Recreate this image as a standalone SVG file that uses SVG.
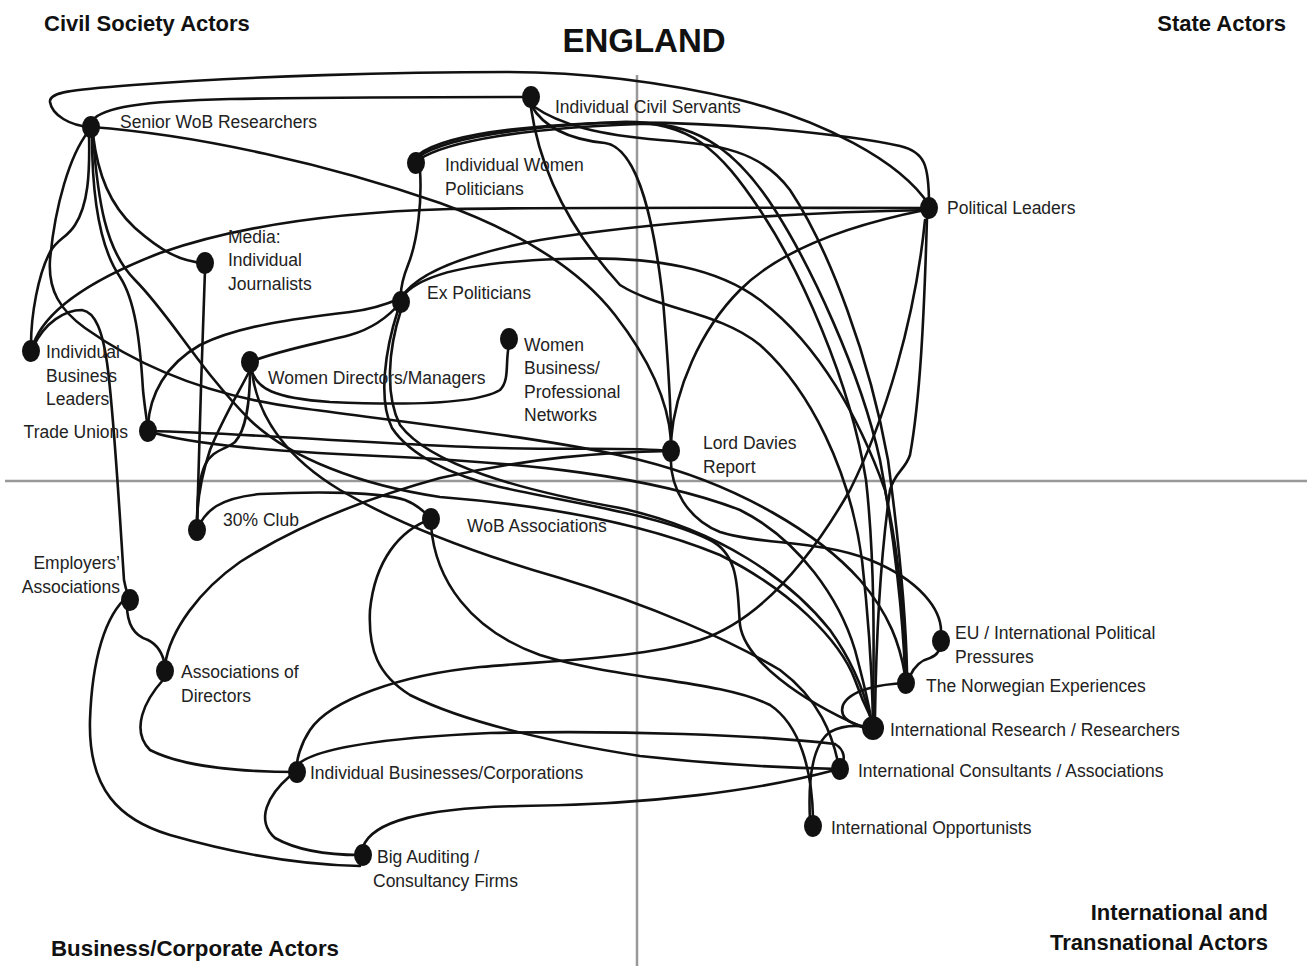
<svg xmlns="http://www.w3.org/2000/svg" width="1307" height="966" viewBox="0 0 1307 966">
<style>
.e{fill:none;stroke:#111;stroke-width:2.6;stroke-linecap:round}
.n{fill:#111}
.t{font-family:"Liberation Sans",Arial,sans-serif;font-size:17.5px;fill:#222}
.h{font-family:"Liberation Sans",Arial,sans-serif;font-weight:bold;font-size:22px;fill:#111}
.ax{stroke:#999;stroke-width:2.5}
</style>
<rect width="1307" height="966" fill="#fff"/>
<g id="axes">
<line class="ax" x1="637" y1="75" x2="637" y2="966"/>
<line class="ax" x1="5" y1="481" x2="1307" y2="481"/>
</g>
<g id="titles">
<text x="644" y="52" text-anchor="middle" class="h" style="font-size:33px">ENGLAND</text>
<text x="44" y="31" class="h">Civil Society Actors</text>
<text x="1286" y="31" class="h" text-anchor="end">State Actors</text>
<text x="51" y="956" class="h" textLength="288" lengthAdjust="spacingAndGlyphs">Business/Corporate Actors</text>
<text x="1268" y="920" class="h" text-anchor="end">International and</text>
<text x="1268" y="950" class="h" text-anchor="end">Transnational Actors</text>
</g>
<g id="connectors">
<path class="e" d="M91,127 C70,126 52,115 50,102 C49,92 70,90 133,85 C250,76 400,72 507,72 C600,72 680,86 740,100 C820,120 900,160 929,205"/>
<path class="e" d="M93,120 C102,108 140,101 230,99 C350,97 450,97 531,97"/>
<path class="e" d="M91,127 C200,135 330,165 440,203 C520,232 580,270 615,315 C650,360 668,400 671,440"/>
<path class="e" d="M93,135 C98,175 110,205 135,228 C160,250 180,262 205,263"/>
<path class="e" d="M89,133 C90,175 88,205 75,225 C67,238 58,238 50,252 C38,275 31,315 31,345"/>
<path class="e" d="M92,135 C92,190 98,245 120,277 C135,300 140,340 143,390 C145,410 147,420 148,431"/>
<path class="e" d="M88,132 C70,155 55,205 50,260 C48,290 60,310 85,328 C130,360 200,395 300,408 C420,424 560,440 640,460 C740,485 820,535 860,580 C890,615 900,645 905,675"/>
<path class="e" d="M93,137 C98,200 105,250 135,280 C170,315 200,370 250,420 C290,458 360,485 440,497 C540,505 640,522 720,555 C790,590 840,640 855,680 C862,700 868,712 871,718"/>
<path class="e" d="M531,105 C545,130 575,140 605,143 C640,148 655,230 663,300 C668,360 671,410 671,440"/>
<path class="e" d="M533,106 C560,125 600,135 660,140 C720,145 760,150 790,190 C830,250 870,360 888,460 C900,550 906,620 907,672"/>
<path class="e" d="M531,108 C540,170 570,230 620,285 C660,310 720,312 760,345 C810,390 850,470 862,560 C870,630 872,680 873,716"/>
<path class="e" d="M418,155 C440,138 500,127 600,123 C720,120 850,135 900,146 C925,152 929,165 929,205"/>
<path class="e" d="M418,157 C445,138 520,127 620,122 C690,120 720,150 760,210 C800,270 850,380 866,480 C875,560 874,650 873,716"/>
<path class="e" d="M418,160 C448,140 530,128 640,124 C700,122 740,155 775,210 C810,265 860,370 880,460 C895,540 903,620 905,672"/>
<path class="e" d="M420,170 C422,200 418,240 408,265 C402,280 400,290 401,300"/>
<path class="e" d="M925,210 C850,225 780,250 740,290 C700,330 675,390 671,440"/>
<path class="e" d="M927,218 C924,320 920,400 910,455 C905,470 895,472 890,490 C880,560 876,650 875,716"/>
<path class="e" d="M925,220 C915,320 885,420 850,490 C810,560 760,620 700,640 C640,658 560,660 480,667 C400,675 330,700 310,730 C300,745 297,760 297,765"/>
<path class="e" d="M33,345 C45,310 90,280 160,253 C240,225 340,212 450,209 C600,207 800,208 929,208"/>
<path class="e" d="M401,298 C415,275 460,255 540,240 C650,222 800,212 929,210"/>
<path class="e" d="M403,296 C420,275 470,262 560,259 C660,255 720,270 760,300 C820,345 860,420 885,490 C900,560 905,620 906,675"/>
<path class="e" d="M398,310 C385,350 378,400 392,428 C410,455 450,475 500,487 C580,505 660,515 710,540 C740,555 737,590 740,625 C745,660 800,700 862,727"/>
<path class="e" d="M401,310 C388,350 385,395 400,425 C430,465 520,490 620,508 C720,530 790,580 830,630 C855,665 866,700 870,716"/>
<path class="e" d="M148,425 C150,395 165,365 200,345 C240,325 300,318 350,312 C375,309 392,302 401,298"/>
<path class="e" d="M148,431 C250,433 380,445 500,448 C580,450 630,447 671,451"/>
<path class="e" d="M148,431 C190,445 280,452 400,457 C520,463 650,475 740,510 C800,540 840,600 855,650 C863,680 868,700 871,718"/>
<path class="e" d="M250,362 C280,350 320,343 350,335 C375,328 390,315 401,302"/>
<path class="e" d="M252,372 C258,388 272,398 330,402 C420,406 480,402 500,390 C510,380 505,362 509,345"/>
<path class="e" d="M250,370 C240,390 222,420 210,450 C200,480 197,505 197,525"/>
<path class="e" d="M250,370 C250,400 246,430 235,442 C225,450 212,450 205,465 C198,480 197,505 197,525"/>
<path class="e" d="M252,372 C258,420 290,460 340,490 C400,525 480,555 560,578 C650,605 730,640 780,670 C820,700 832,735 838,762"/>
<path class="e" d="M205,270 C202,350 199,450 197,525"/>
<path class="e" d="M197,530 C205,510 220,498 260,494 C320,491 380,492 405,500 C418,505 425,512 431,519"/>
<path class="e" d="M33,347 C45,322 65,310 82,310 C95,312 103,330 108,370 C115,430 120,520 124,580 C126,590 128,596 130,600"/>
<path class="e" d="M165,665 C170,630 200,590 240,562 C290,530 360,500 440,478 C530,458 600,452 671,451"/>
<path class="e" d="M127,605 C127,625 135,636 148,640 C158,645 163,655 165,665"/>
<path class="e" d="M128,596 C105,615 92,660 90,720 C88,790 120,820 170,835 C240,855 300,865 360,866"/>
<path class="e" d="M163,680 C145,700 130,730 150,750 C185,768 250,772 297,772"/>
<path class="e" d="M290,776 C268,795 255,820 275,838 C300,852 330,855 360,855"/>
<path class="e" d="M297,765 C315,748 380,738 490,733 C620,730 760,735 835,744 C845,750 846,760 840,768"/>
<path class="e" d="M363,847 C372,822 420,808 520,806 C650,805 760,790 835,770"/>
<path class="e" d="M431,519 C400,530 375,560 370,610 C368,650 378,675 410,695 C470,725 570,745 640,756 C720,765 790,768 840,769"/>
<path class="e" d="M431,525 C435,580 470,630 540,655 C620,680 720,680 770,705 C800,725 812,770 813,818"/>
<path class="e" d="M810,820 C808,780 812,745 830,732 C845,724 860,725 873,728"/>
<path class="e" d="M906,683 C880,684 850,690 843,705 C838,720 855,726 873,728"/>
<path class="e" d="M910,676 C915,665 922,660 930,658 C938,655 941,648 941,641"/>
<path class="e" d="M671,451 C668,490 690,520 720,532 C760,545 820,540 870,560 C920,580 942,610 941,633"/>
</g>
<g id="n-senior-wob"><ellipse class="n" cx="91" cy="127" rx="9" ry="11"/><text class="t" x="120" y="128">Senior WoB Researchers</text></g>
<g id="n-civil-servants"><ellipse class="n" cx="531" cy="97" rx="9" ry="11"/><text class="t" x="555" y="113">Individual Civil Servants</text></g>
<g id="n-women-politicians"><ellipse class="n" cx="416" cy="163" rx="9" ry="11"/><text class="t" x="445" y="171">Individual Women</text><text class="t" x="445" y="195">Politicians</text></g>
<g id="n-political-leaders"><ellipse class="n" cx="929" cy="208" rx="9" ry="11"/><text class="t" x="947" y="214">Political Leaders</text></g>
<g id="n-media"><ellipse class="n" cx="205" cy="263" rx="9" ry="11"/><text class="t" x="228" y="243">Media:</text><text class="t" x="228" y="266">Individual</text><text class="t" x="228" y="290">Journalists</text></g>
<g id="n-ex-politicians"><ellipse class="n" cx="401" cy="302" rx="9" ry="11"/><text class="t" x="427" y="299">Ex Politicians</text></g>
<g id="n-women-networks"><ellipse class="n" cx="509" cy="339" rx="9" ry="11"/><text class="t" x="524" y="351">Women</text><text class="t" x="524" y="374">Business/</text><text class="t" x="524" y="398">Professional</text><text class="t" x="524" y="421">Networks</text></g>
<g id="n-business-leaders"><ellipse class="n" cx="31" cy="351" rx="9" ry="11"/><text class="t" x="46" y="358">Individual</text><text class="t" x="46" y="382">Business</text><text class="t" x="46" y="405">Leaders</text></g>
<g id="n-women-directors"><ellipse class="n" cx="250" cy="362" rx="9" ry="11"/><text class="t" x="268" y="384">Women Directors/Managers</text></g>
<g id="n-trade-unions"><ellipse class="n" cx="148" cy="431" rx="9" ry="11"/><text class="t" x="128" y="438" text-anchor="end">Trade Unions</text></g>
<g id="n-lord-davies"><ellipse class="n" cx="671" cy="451" rx="9" ry="11"/><text class="t" x="703" y="449">Lord Davies</text><text class="t" x="703" y="473">Report</text></g>
<g id="n-30-club"><ellipse class="n" cx="197" cy="530" rx="9" ry="11"/><text class="t" x="223" y="526">30% Club</text></g>
<g id="n-wob-associations"><ellipse class="n" cx="431" cy="519" rx="9" ry="11"/><text class="t" x="467" y="532">WoB Associations</text></g>
<g id="n-employers"><ellipse class="n" cx="130" cy="600" rx="9" ry="11"/><text class="t" x="120" y="569" text-anchor="end">Employers’</text><text class="t" x="120" y="593" text-anchor="end">Associations</text></g>
<g id="n-assoc-directors"><ellipse class="n" cx="165" cy="671" rx="9" ry="11"/><text class="t" x="181" y="678">Associations of</text><text class="t" x="181" y="702">Directors</text></g>
<g id="n-eu"><ellipse class="n" cx="941" cy="641" rx="9" ry="11"/><text class="t" x="955" y="639">EU / International Political</text><text class="t" x="955" y="663">Pressures</text></g>
<g id="n-norwegian"><ellipse class="n" cx="906" cy="683" rx="9" ry="11"/><text class="t" x="926" y="692">The Norwegian Experiences</text></g>
<g id="n-int-research"><ellipse class="n" cx="873" cy="728" rx="11" ry="12"/><text class="t" x="890" y="736">International Research / Researchers</text></g>
<g id="n-int-consultants"><ellipse class="n" cx="840" cy="769" rx="9" ry="11"/><text class="t" x="858" y="777">International Consultants / Associations</text></g>
<g id="n-int-opportunists"><ellipse class="n" cx="813" cy="826" rx="9" ry="11"/><text class="t" x="831" y="834">International Opportunists</text></g>
<g id="n-businesses"><ellipse class="n" cx="297" cy="772" rx="9" ry="11"/><text class="t" x="310" y="779">Individual Businesses/Corporations</text></g>
<g id="n-big-auditing"><ellipse class="n" cx="363" cy="855" rx="9" ry="11"/><text class="t" x="377" y="863">Big Auditing /</text><text class="t" x="373" y="887">Consultancy Firms</text></g>
</svg>
